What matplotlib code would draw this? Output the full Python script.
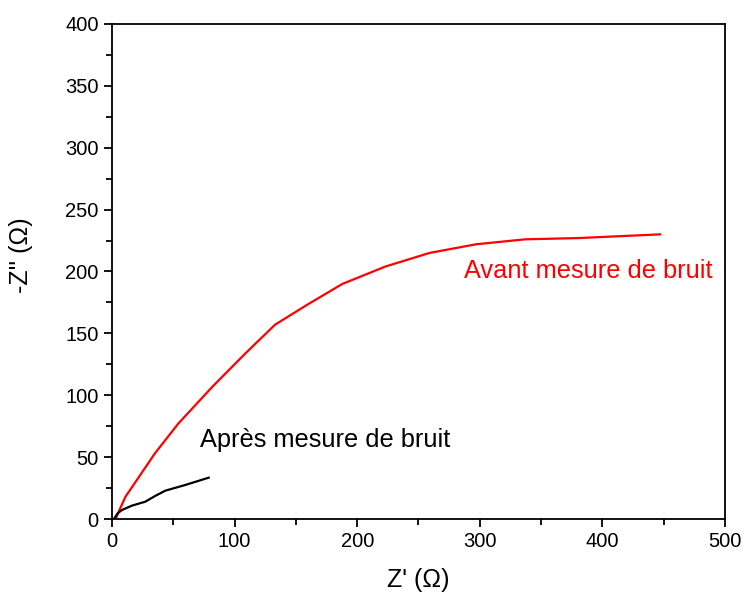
import matplotlib
matplotlib.use("Agg")
import matplotlib.pyplot as plt
from matplotlib.ticker import MultipleLocator

plt.rcParams['font.family'] = ['Liberation Sans', 'DejaVu Sans']

avant_x = [3, 6, 11, 22, 35, 54, 82, 109, 133, 159, 188, 223, 259, 297, 337, 380, 447]
avant_y = [0, 7, 18, 34, 53, 77, 107, 134, 157, 173, 190, 204, 215, 222, 226, 227, 230]
apres_x = [1.6, 4.5, 8.2, 16.3, 27.2, 35, 43.5, 59.8, 78.9]
apres_y = [0, 4.5, 7.3, 10.8, 14, 18.5, 22.9, 27.5, 33.4]

fig = plt.figure(figsize=(7.44, 5.98), dpi=100)
ax = fig.add_axes([0.1505, 0.1321, 0.824, 0.8278])
ax.plot(avant_x, avant_y, color='#ff0000', lw=1.6)
ax.plot(apres_x, apres_y, color='black', lw=1.6)
ax.text(287, 200.4, 'Avant mesure de bruit', color='#ff0000', fontsize=18.3, va='center', ha='left')
ax.text(72, 63.8, 'Après mesure de bruit', color='black', fontsize=18.3, va='center', ha='left')

ax.set_xlim(0, 500)
ax.set_ylim(0, 400)
ax.xaxis.set_major_locator(MultipleLocator(100))
ax.xaxis.set_minor_locator(MultipleLocator(50))
ax.yaxis.set_major_locator(MultipleLocator(50))
ax.yaxis.set_minor_locator(MultipleLocator(25))
ax.tick_params(which='both', direction='out', top=False, right=False, width=1.3, labelsize=14.5)
ax.tick_params(which='major', length=6)
ax.tick_params(which='minor', length=4)
for s in ax.spines.values():
    s.set_linewidth(1.3)
ax.set_xlabel("Z' (Ω)", fontsize=18, va='center', ha='center')
ax.set_ylabel("-Z'' (Ω)", fontsize=18, va='center', ha='center')
ax.xaxis.set_label_coords(0.499, -0.123)
ax.yaxis.set_label_coords(-0.148, 0.533)
fig.savefig('out.png', dpi=100)
